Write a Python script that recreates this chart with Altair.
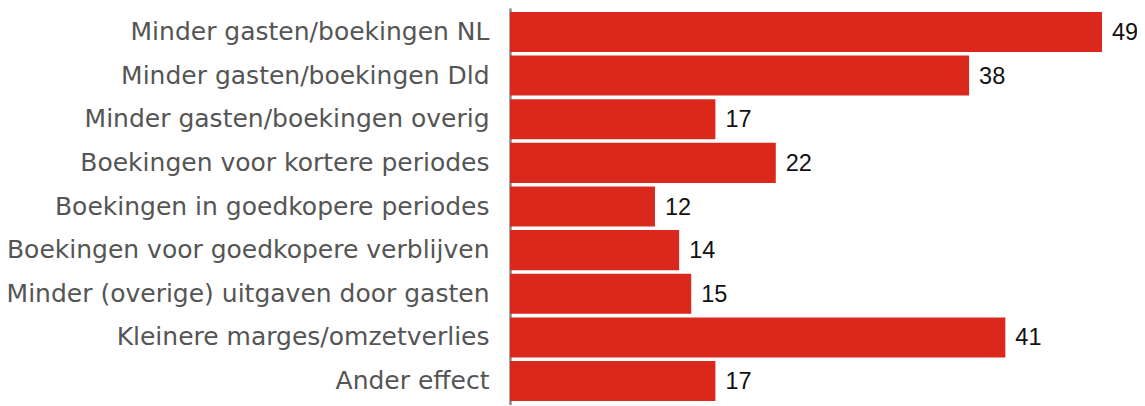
import altair as alt
import pandas as pd

categories = [
    "Minder gasten/boekingen NL",
    "Minder gasten/boekingen Dld",
    "Minder gasten/boekingen overig",
    "Boekingen voor kortere periodes",
    "Boekingen in goedkopere periodes",
    "Boekingen voor goedkopere verblijven",
    "Minder (overige) uitgaven door gasten",
    "Kleinere marges/omzetverlies",
    "Ander effect",
]
values = [49, 38, 17, 22, 12, 14, 15, 41, 17]

df = pd.DataFrame({"cat": categories, "val": values})

y = alt.Y(
    "cat:N",
    sort=categories,
    title=None,
    scale=alt.Scale(paddingInner=0.083, paddingOuter=0.0915),
    axis=alt.Axis(
        labelFont="DejaVu Sans",
        labelFontSize=25,
        labelColor="#555555",
        labelPadding=21,
        ticks=False,
        domainColor="#888888",
        domainWidth=2.5,
        labelLimit=600,
    ),
)
x = alt.X("val:Q", scale=alt.Scale(domain=[0, 49], nice=False), axis=None)

bars = alt.Chart(df).mark_bar(color="#DA291C").encode(x=x, y=y)
text = alt.Chart(df).mark_text(
    align="left", baseline="middle", dx=10, dy=1, font="Liberation Sans", fontSize=23.5, color="#111111"
).encode(x=x, y=y, text="val:Q")

chart = (
    (bars + text)
    .properties(
        width=592,
        height=397,
        autosize=alt.AutoSizeParams(type="none"),
        padding={"left": 502, "top": 0, "right": 35, "bottom": 0},
    )
    .configure_view(stroke=None)
)

chart.save("out.html", embed_options={"renderer": "svg", "actions": False})
